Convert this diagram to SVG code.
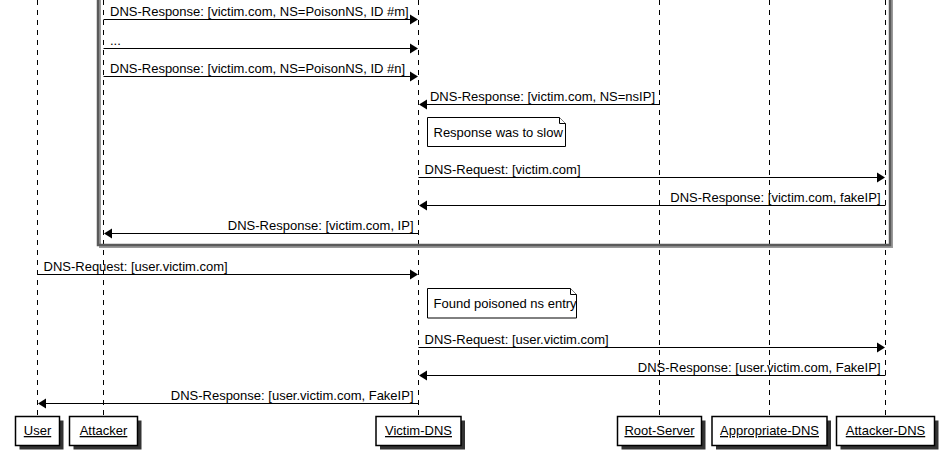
<svg xmlns="http://www.w3.org/2000/svg" width="950" height="463" viewBox="0 0 950 463">
<style>
text{font-family:"Liberation Sans",Arial,sans-serif;font-size:13px;fill:#000}
.life{stroke:#000;stroke-width:1;stroke-dasharray:5,5;fill:none}
.msg{stroke:#000;stroke-width:1;fill:none}
.head{fill:#000;stroke:none}
.pbox{fill:#fff;stroke:#000;stroke-width:1.5}
.pshadow{fill:#333;stroke:none}
.pname{text-anchor:middle;text-decoration:underline}
.note{fill:#fff;stroke:#000;stroke-width:1}
.end{text-anchor:end}
.frame{fill:none;stroke:#5a5a5a;stroke-width:2.5}
.frameshadow{fill:none;stroke:#9a9a9a;stroke-width:2}
</style>
<rect width="950" height="463" fill="#fff"/>
<g id="lifelines">
<line class="life" x1="37.5" y1="0" x2="37.5" y2="416"/>
<line class="life" x1="103.5" y1="0" x2="103.5" y2="416"/>
<line class="life" x1="418.5" y1="0" x2="418.5" y2="416"/>
<line class="life" x1="659.5" y1="0" x2="659.5" y2="416"/>
<line class="life" x1="769.5" y1="0" x2="769.5" y2="416"/>
<line class="life" x1="885.5" y1="0" x2="885.5" y2="416"/>
</g>
<g id="group-frame">
<rect class="frameshadow" x="100" y="-10" width="792" height="257"/>
<rect class="frame" x="98" y="-12" width="792" height="257"/>
</g>
<g id="connectors">
<line class="msg" x1="103.5" y1="19.5" x2="412" y2="19.5"/>
<polygon class="head" points="410,14.5 418,19.5 410,24.5"/>
<text x="110" y="16">DNS-Response: [victim.com, NS=PoisonNS, ID #m]</text>

<line class="msg" x1="103.5" y1="48.5" x2="412" y2="48.5"/>
<polygon class="head" points="410,43.5 418,48.5 410,53.5"/>
<text x="110" y="45">...</text>

<line class="msg" x1="103.5" y1="76.5" x2="412" y2="76.5"/>
<polygon class="head" points="410,71.5 418,76.5 410,81.5"/>
<text x="110" y="73">DNS-Response: [victim.com, NS=PoisonNS, ID #n]</text>

<line class="msg" x1="659.5" y1="104.5" x2="425" y2="104.5"/>
<polygon class="head" points="427,99.5 419,104.5 427,109.5"/>
<text class="end" x="655" y="101">DNS-Response: [victim.com, NS=nsIP]</text>

<line class="msg" x1="418.5" y1="177.5" x2="879" y2="177.5"/>
<polygon class="head" points="877,172.5 885,177.5 877,182.5"/>
<text x="424.5" y="174">DNS-Request: [victim.com]</text>

<line class="msg" x1="885.5" y1="205.5" x2="425" y2="205.5"/>
<polygon class="head" points="427,200.5 419,205.5 427,210.5"/>
<text class="end" x="880.5" y="202">DNS-Response: [victim.com, fakeIP]</text>

<line class="msg" x1="418.5" y1="233.5" x2="110" y2="233.5"/>
<polygon class="head" points="112,228.5 104,233.5 112,238.5"/>
<text class="end" x="413.5" y="230">DNS-Response: [victim.com, IP]</text>

<line class="msg" x1="37.5" y1="274.5" x2="412" y2="274.5"/>
<polygon class="head" points="410,269.5 418,274.5 410,279.5"/>
<text x="43.5" y="271">DNS-Request: [user.victim.com]</text>

<line class="msg" x1="418.5" y1="347.5" x2="879" y2="347.5"/>
<polygon class="head" points="877,342.5 885,347.5 877,352.5"/>
<text x="424.5" y="344">DNS-Request: [user.victim.com]</text>

<line class="msg" x1="885.5" y1="375.5" x2="425" y2="375.5"/>
<polygon class="head" points="427,370.5 419,375.5 427,380.5"/>
<text class="end" x="880.5" y="372">DNS-Response: [user.victim.com, FakeIP]</text>

<line class="msg" x1="418.5" y1="403.5" x2="44" y2="403.5"/>
<polygon class="head" points="46,398.5 38,403.5 46,408.5"/>
<text class="end" x="413.5" y="400">DNS-Response: [user.victim.com, FakeIP]</text>
</g>
<g id="note-slow">
<path class="note" d="M427.5,117.5 H559.5 L565.5,123.5 V146.5 H427.5 Z"/>
<path class="note" d="M559.5,117.5 V123.5 H565.5"/>
<text x="433.5" y="137">Response was to slow</text>
</g>
<g id="note-found">
<path class="note" d="M427.5,288.5 H570.5 L576.5,294.5 V318 H427.5 Z"/>
<path class="note" d="M570.5,288.5 V294.5 H576.5"/>
<text x="433.5" y="308">Found poisoned ns entry</text>
</g>
<g id="p-user">
<rect class="pshadow" x="19.5" y="420.5" width="44" height="29"/>
<rect class="pbox" x="15.5" y="416.5" width="44" height="29"/>
<text class="pname" x="37.5" y="435">User</text>
</g>
<g id="p-attacker">
<rect class="pshadow" x="73.5" y="420.5" width="68" height="29"/>
<rect class="pbox" x="69.5" y="416.5" width="68" height="29"/>
<text class="pname" x="103.5" y="435">Attacker</text>
</g>
<g id="p-victim-dns">
<rect class="pshadow" x="380" y="420.5" width="85" height="29"/>
<rect class="pbox" x="376" y="416.5" width="85" height="29"/>
<text class="pname" x="418.5" y="435">Victim-DNS</text>
</g>
<g id="p-root-server">
<rect class="pshadow" x="621.5" y="420.5" width="84" height="29"/>
<rect class="pbox" x="617.5" y="416.5" width="84" height="29"/>
<text class="pname" x="659.5" y="435">Root-Server</text>
</g>
<g id="p-appropriate-dns">
<rect class="pshadow" x="716" y="420.5" width="115" height="29"/>
<rect class="pbox" x="712" y="416.5" width="115" height="29"/>
<text class="pname" x="769.5" y="435">Appropriate-DNS</text>
</g>
<g id="p-attacker-dns">
<rect class="pshadow" x="840.5" y="420.5" width="98" height="29"/>
<rect class="pbox" x="836.5" y="416.5" width="98" height="29"/>
<text class="pname" x="885.5" y="435">Attacker-DNS</text>
</g>
</svg>
